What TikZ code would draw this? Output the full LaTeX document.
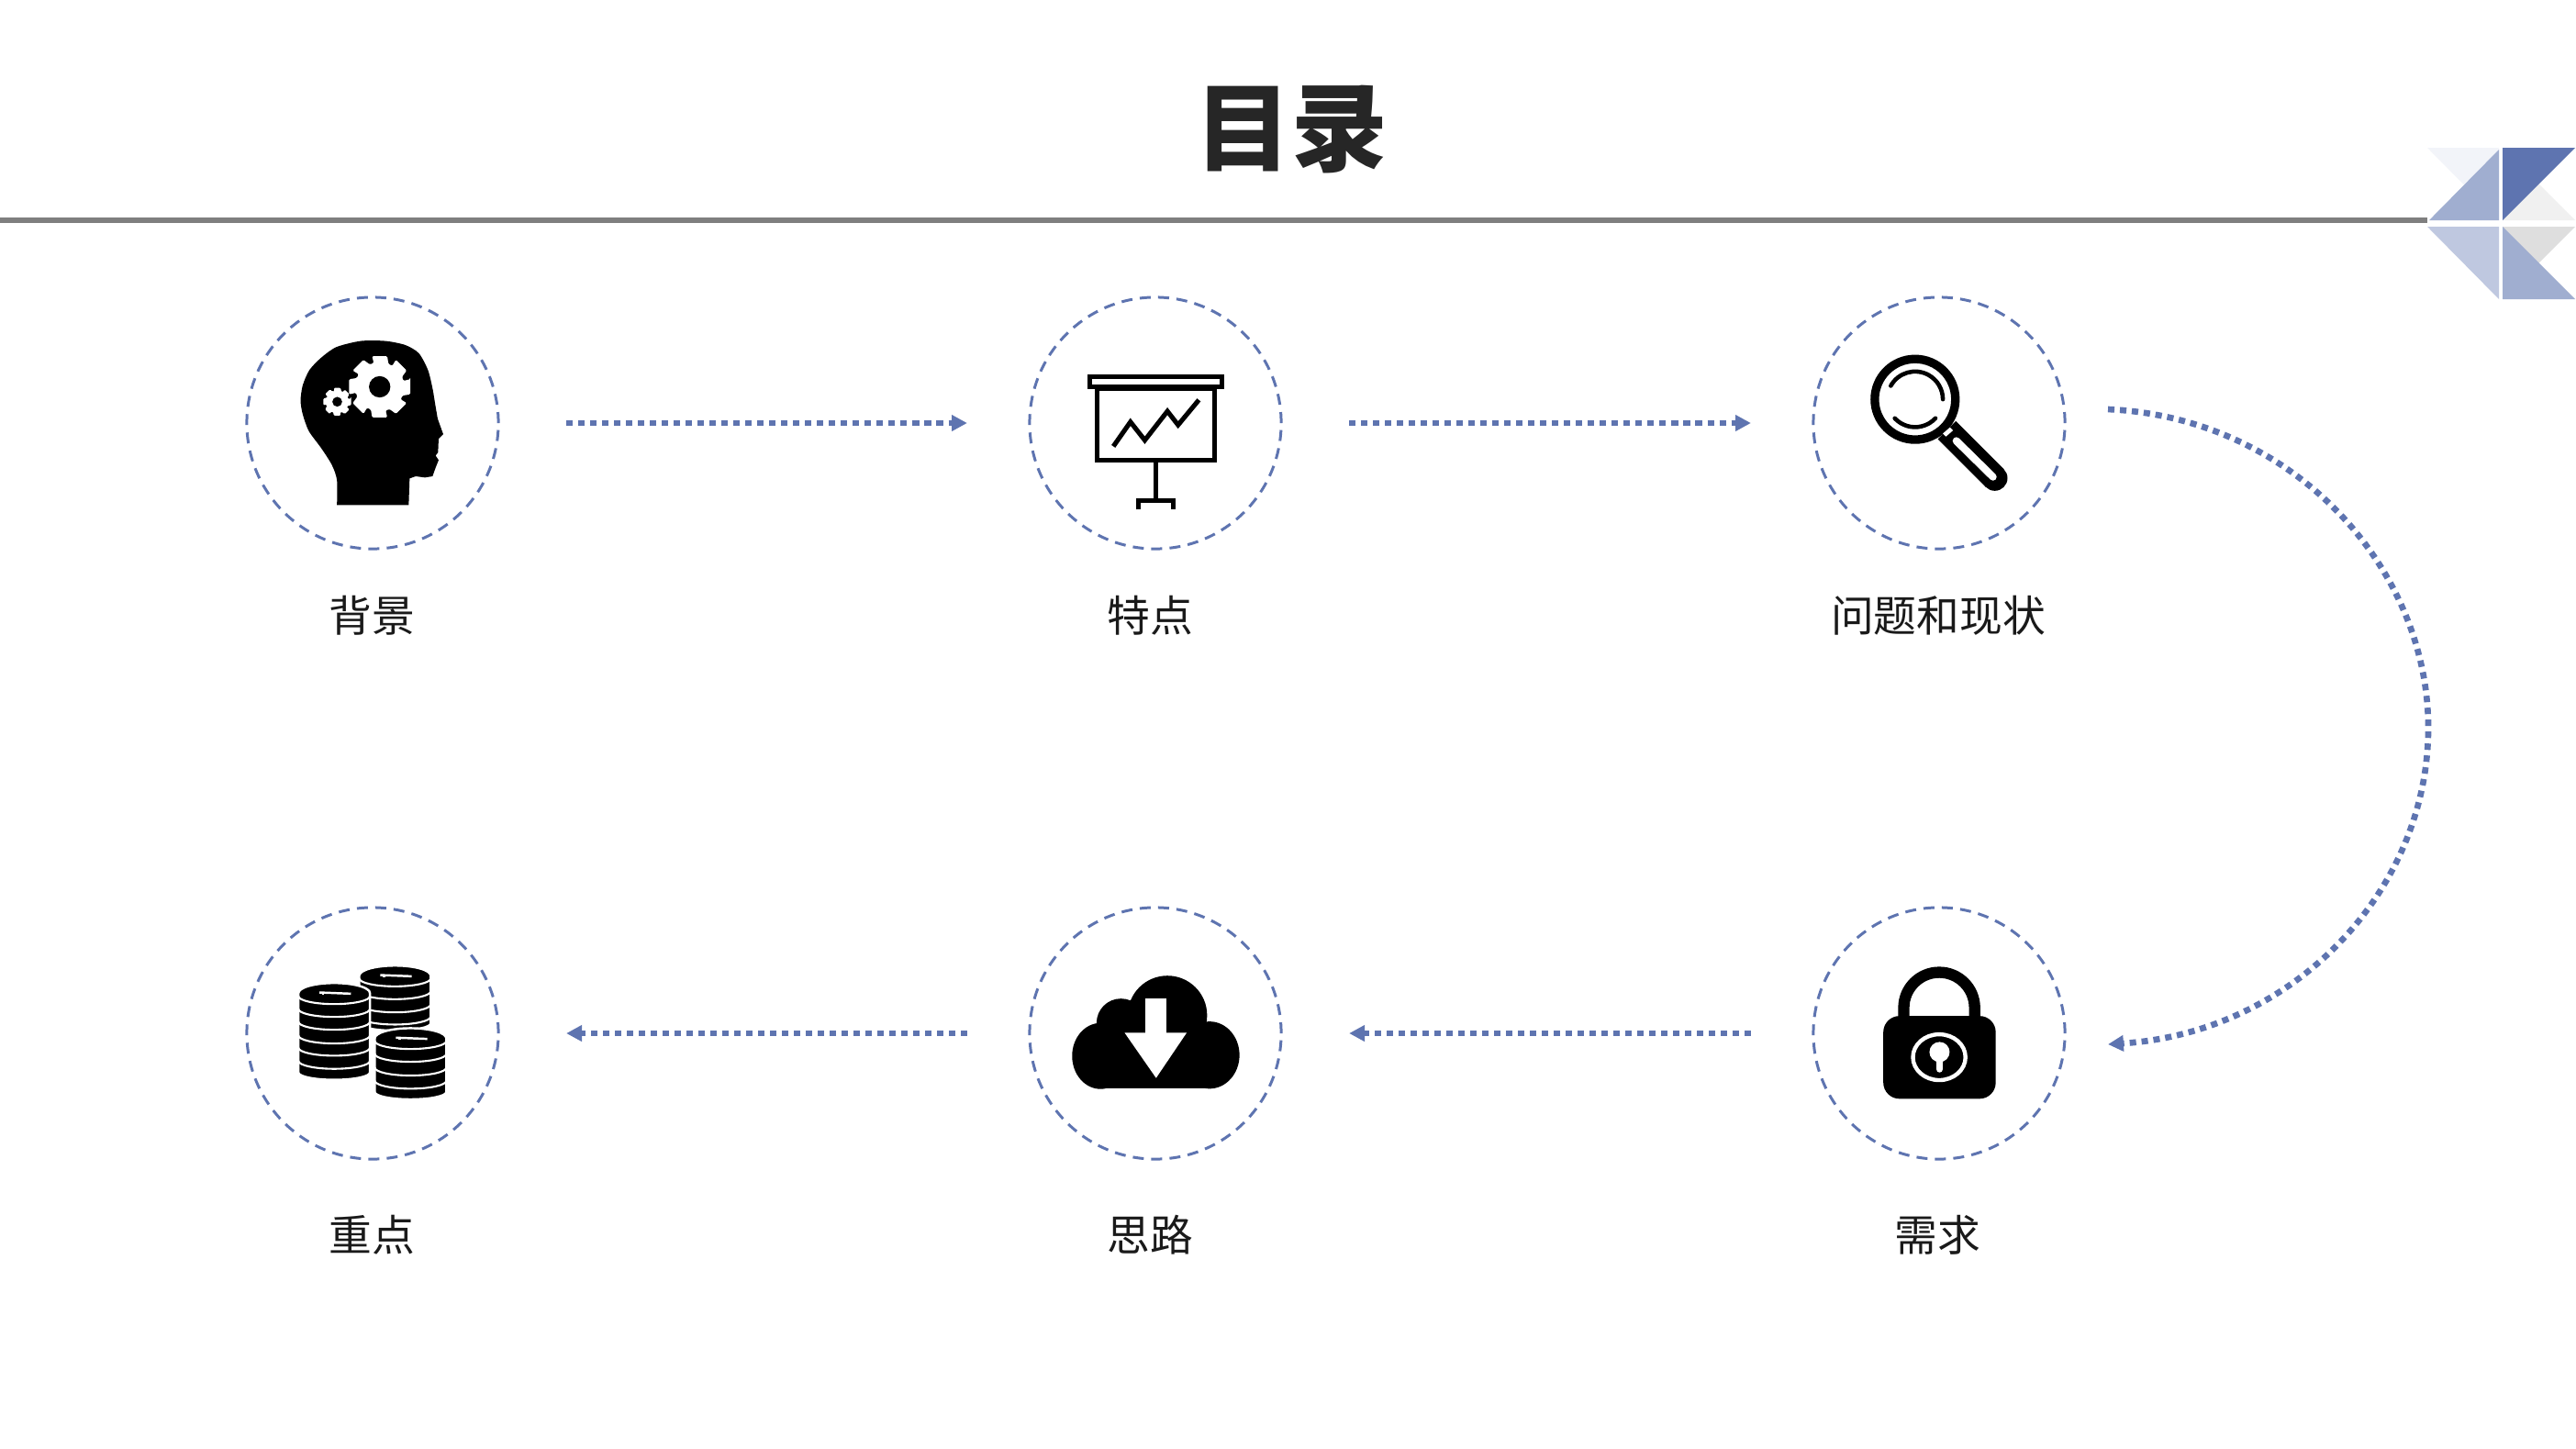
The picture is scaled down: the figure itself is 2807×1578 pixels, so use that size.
\documentclass[tikz,border=0pt]{standalone}
\usepackage{fontspec}
\setmainfont{Noto Sans CJK SC}
\usetikzlibrary{arrows.meta}
\definecolor{accentblue}{HTML}{5E74B0}
\definecolor{midblue}{HTML}{A0AED0}
\definecolor{softblue}{HTML}{BFC8E0}
\definecolor{paleblue}{HTML}{F2F4F9}
\definecolor{palegrey}{HTML}{F0F0F0}
\definecolor{softgrey}{HTML}{DEDEDE}
\definecolor{titleink}{HTML}{262626}
\definecolor{labelink}{HTML}{1A1A1A}
\definecolor{ruleink}{HTML}{7F7F7F}
\tikzset{
  ringnode/.style={circle,draw=accentblue,line width=0.85pt,dash pattern=on 3.4pt off 2.3pt,minimum size=2.74cm,inner sep=0pt,outer sep=0pt},
  caption/.style={text=labelink,font=\fontsize{13.3pt}{15pt}\selectfont,inner sep=0pt},
  flow/.style={draw=accentblue,line width=1.9pt,dash pattern=on 2pt off 1.7pt,-{Triangle[length=4.8pt,width=4.8pt,fill=accentblue]}},
  iconframe/.style={x=0.0033333cm,y=-0.0033333cm},
  iconline/.style={draw=black,line width=1.45pt},
}
% gear: cx cy outer inner
\newcommand{\mygear}[4]{%
  \fill[white,rounded corners=0.35pt] ({#1+#3*cos(-14)},{#2+#3*sin(-14)})
    \foreach \a in {0,45,...,315}{
      -- ({#1+#3*cos(\a-14)},{#2+#3*sin(\a-14)})
      -- ({#1+#3*cos(\a+14)},{#2+#3*sin(\a+14)})
      -- ({#1+#4*cos(\a+21)},{#2+#4*sin(\a+21)})
      -- ({#1+#4*cos(\a+25)},{#2+#4*sin(\a+25)})
      -- ({#1+#4*cos(\a+31)},{#2+#4*sin(\a+31)})
    } -- cycle;
}
% coin stack: cx ytop ybottom bands
\newcommand{\mystack}[4]{%
  \path[draw=white,line width=0.7pt,fill=black]
    (#1-117,#2) -- (#1-117,#3-24) arc[start angle=180,end angle=0,x radius=117,y radius=24]
    -- (#1+117,#2) arc[start angle=0,end angle=-180,x radius=117,y radius=33] -- cycle;
  \foreach \b in {#4}{
    \draw[white,line width=0.6pt] (#1-117,\b-26) arc[start angle=180,end angle=0,x radius=117,y radius=26];
  }
  \draw[white,line width=0.7pt] (#1-48,#2-2) -- (#1+55,#2+2);
  \draw[white,line width=0.7pt] (#1-36,#2-2) -- (#1-36,#2+6);
}
\begin{document}
\begin{tikzpicture}[x=0.01cm,y=-0.01cm]
\useasboundingbox (0,0) rectangle (2807,1578);
\fill[white] (0,0) rectangle (2807,1578);

% title and rule
\node[text=titleink,font=\fontsize{29.8pt}{33pt}\selectfont\bfseries,inner sep=0pt] (title) at (1407,141) {目录};
\coordinate (ruleL) at (0,240);
\coordinate (ruleR) at (2645,240);
\draw[ruleink,line width=1.9pt] (ruleL) -- (ruleR);

% corner mark
\fill[paleblue] (2645,161) -- (2723,161) -- (2723,240) -- cycle;
\fill[midblue] (2647,240) -- (2723,163) -- (2723,240) -- cycle;
\fill[palegrey] (2727,240) -- (2806,240) -- (2766,200) -- cycle;
\fill[accentblue] (2727,161) -- (2806,161) -- (2727,240) -- cycle;
\fill[softblue] (2645,247) -- (2723,247) -- (2723,326) -- cycle;
\fill[softgrey] (2727,247) -- (2806,247) -- (2766,287) -- cycle;
\fill[midblue] (2727,247) -- (2806,326) -- (2727,326) -- cycle;

% rings
\node[ringnode] (r1) at (406,461) {};
\node[ringnode] (r2) at (1259,461) {};
\node[ringnode] (r3) at (2113,461) {};
\node[ringnode] (r4) at (2113,1126) {};
\node[ringnode] (r5) at (1259,1126) {};
\node[ringnode] (r6) at (406,1126) {};

% captions
\node[caption] (t1) at (405,671) {背景};
\node[caption] (t2) at (1253,671) {特点};
\node[caption] (t3) at (2112,671) {问题和现状};
\node[caption] (t4) at (2111,1346) {需求};
\node[caption] (t5) at (1253,1346) {思路};
\node[caption] (t6) at (405,1346) {重点};

% connectors
\draw[flow,shorten <=0.74cm,shorten >=0.68cm] (r1.east) -- (r2.west);
\draw[flow,shorten <=0.74cm,shorten >=0.68cm] (r2.east) -- (r3.west);
\draw[flow,shorten <=0.68cm,shorten >=0.74cm] (r4.west) -- (r5.east);
\draw[flow,shorten <=0.68cm,shorten >=0.74cm] (r5.west) -- (r6.east);
\coordinate (arcS) at (2297,446);
\coordinate (arcM) at (2646,793);
\coordinate (arcE) at (2297,1138);
\draw[flow] (arcS) .. controls (2500,455) and (2646,620) .. (arcM) .. controls (2646,970) and (2500,1125) .. (arcE);

% head icon
\begin{scope}[shift={(250,310)},iconframe]
\fill[black] plot[smooth,tension=0.45] coordinates {(352,722) (352,640) (335,590) (300,535) (260,480) (240,425) (233,380) (240,330) (262,280) (300,240) (350,205) (430,185) (510,185) (575,198) (620,225) (650,280) (665,340) (675,400) (682,440)}
  -- (700,490) -- (685,505) -- (683,550) -- (675,560) -- (685,575) -- (675,600) -- (665,628) -- (640,632) -- (610,628) -- (590,635) -- (587,722) -- cycle;
\mygear{492}{335}{103}{80}
\fill[black] (492,335) circle[radius=35];
\mygear{353}{384}{47}{36}
\fill[black] (353,384) circle[radius=16];
\end{scope}

% presentation icon
\begin{scope}[shift={(1110,310)},iconframe]
\draw[iconline] (233,302) rectangle (665,336);
\draw[iconline] (257,340) rectangle (642,575);
\draw[iconline,line join=miter] (310,530) -- (366,450) -- (413,510) -- (487,415) -- (522,460) -- (590,378);
\draw[iconline] (449,578) -- (449,707);
\draw[iconline] (392,737) -- (392,707) -- (506,707) -- (506,737);
\end{scope}

% magnifier icon
\begin{scope}[shift={(1960,310)},iconframe]
\draw[black,line width=2.65pt] (381,376) circle[radius=132];
\draw[black,line width=1.3pt,line cap=round] ({381+91*cos(209)},{376+91*sin(209)}) arc[start angle=209,end angle=360,radius=91];
\draw[black,line width=1.3pt,line cap=round] ({381+91*cos(137)},{376+91*sin(137)}) arc[start angle=137,end angle=43,radius=91];
\draw[black,line width=7.9pt] (485,477) -- (642,634);
\fill[black] (642,634) circle[radius=41.5];
\draw[white,line width=2.3pt,line cap=round] (516,512) -- (636,630);
\fill[white] (472,488) -- (495,468) -- (505,478) -- (482,498) -- cycle;
\end{scope}

% coins icon
\begin{scope}[shift={(250,975)},iconframe]
\mystack{542}{265}{445}{300,342,385,425}
\mystack{343}{322}{606}{358,400,442,487,527,570}
\mystack{593}{470}{670}{505,547,592,635}
\end{scope}

% cloud icon
\begin{scope}[shift={(1110,975)},iconframe]
\fill[black] (268,528) ellipse[x radius=93,y radius=108];
\fill[black] (625,525) ellipse[x radius=98,y radius=110];
\fill[black] (335,420) circle[radius=80];
\fill[black] (487,395) circle[radius=130];
\fill[black] (268,450) rectangle (625,635);
\fill[white] (415,340) -- (483,340) -- (483,452) -- (550,452) -- (450,600) -- (347,452) -- (415,452) -- cycle;
\end{scope}

% lock icon
\begin{scope}[shift={(1960,975)},iconframe]
\draw[black,line width=3.5pt] (344,405) -- (344,370) arc[start angle=180,end angle=360,radius=116] -- (576,405);
\fill[black,rounded corners=5pt] (277,397) rectangle (645,668);
\draw[white,line width=1.25pt] (460,532) ellipse[x radius=86,y radius=75];
\fill[white] (461,515) circle[radius=33];
\draw[white,line width=2.1pt,line cap=round] (461,515) -- (461,571);
\end{scope}
\end{tikzpicture}
\end{document}
